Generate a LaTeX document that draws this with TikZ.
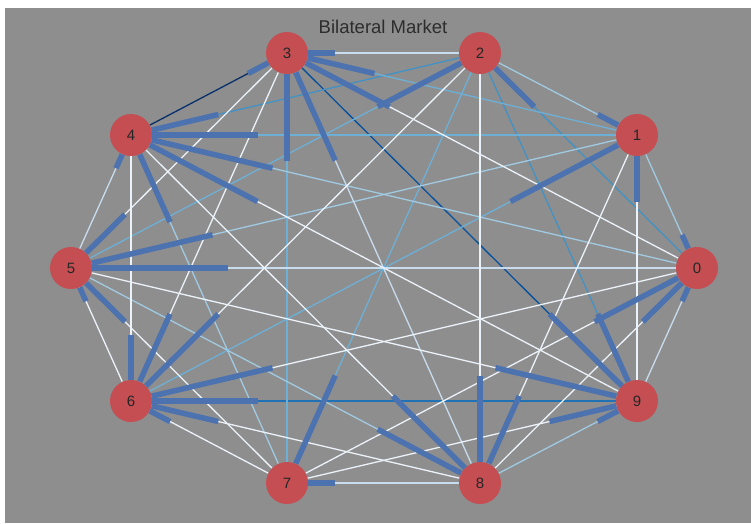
\documentclass[tikz,border=0pt]{standalone}
\usepackage{fontspec}
\setmainfont{Liberation Sans}
\usetikzlibrary{calc}
\definecolor{bgray}{RGB}{142,142,142}
\definecolor{nodered}{RGB}{196,78,82}
\definecolor{barblue}{RGB}{76,114,176}
\definecolor{titlegray}{RGB}{45,45,45}
\definecolor{cA}{RGB}{236,242,249}
\definecolor{cB}{RGB}{200,220,238}
\definecolor{cC}{RGB}{160,202,226}
\definecolor{cD}{RGB}{110,175,214}
\definecolor{cE}{RGB}{66,146,198}
\definecolor{cF}{RGB}{33,113,181}
\definecolor{cG}{RGB}{8,81,156}
\definecolor{cH}{RGB}{8,48,107}
\pgfdeclarelayer{back}
\pgfdeclarelayer{edges}
\pgfdeclarelayer{bars}
\pgfsetlayers{back,edges,bars,main}
\begin{document}
\begin{tikzpicture}[x=1pt,y=-1pt,
  vtx/.style={circle,fill=nodered,minimum size=42pt,inner sep=0pt,
    font=\fontsize{15}{15}\selectfont,text=black!85},
  edge/.style={line width=1.3pt},
  bar/.style={line width=5.5pt,draw=barblue},
]
\useasboundingbox (0,0) rectangle (751,523);
\begin{pgfonlayer}{back}
\fill[white] (0,0) rectangle (751,523);
\fill[bgray] (5,8) rectangle (751,523);
\end{pgfonlayer}
\node[anchor=base,font=\fontsize{18.5}{20}\selectfont,text=titlegray] (title) at (383,33) {Bilateral Market};
\node[vtx] (n0) at (697,268) {0};
\node[vtx] (n1) at (637,135) {1};
\node[vtx] (n2) at (480,53) {2};
\node[vtx] (n3) at (287,53) {3};
\node[vtx] (n4) at (131,135) {4};
\node[vtx] (n5) at (71,268) {5};
\node[vtx] (n6) at (131,401) {6};
\node[vtx] (n7) at (287,483) {7};
\node[vtx] (n8) at (480,483) {8};
\node[vtx] (n9) at (637,401) {9};
\begin{pgfonlayer}{edges}
\foreach \a/\b/\c in {
  3/4/cH, 3/9/cG, 6/9/cF,
  2/4/cE, 2/0/cE, 2/9/cE,
  3/7/cD, 2/7/cD, 4/1/cD, 1/3/cD, 2/5/cD, 1/6/cD,
  4/0/cC, 1/5/cC, 5/8/cC, 7/4/cC, 1/0/cC, 2/1/cC, 8/9/cC,
  3/2/cB, 7/8/cB, 0/5/cB, 0/9/cB, 4/5/cB, 3/8/cB,
  3/0/cA, 4/9/cA, 4/8/cA, 4/6/cA, 5/3/cA, 5/9/cA, 5/6/cA, 5/7/cA,
  6/0/cA, 6/2/cA, 6/3/cA, 6/7/cA, 6/8/cA, 7/0/cA, 7/9/cA, 8/0/cA,
  8/1/cA, 8/2/cA, 1/9/cA}
  \draw[edge,draw=\c] (n\a) -- (n\b);
\end{pgfonlayer}
\begin{pgfonlayer}{bars}
\foreach \a/\b in {
  3/4, 3/2, 3/1, 3/0, 3/8, 3/7,
  4/2, 4/1, 4/0, 4/9, 4/7, 4/5,
  2/5, 2/0,
  1/2, 1/6, 1/9,
  0/1, 0/7, 0/8, 0/9,
  9/2, 9/3, 9/5, 9/7, 9/8,
  5/0, 5/1, 5/3, 5/6, 5/7,
  6/0, 6/2, 6/3, 6/4, 6/7, 6/8, 6/9,
  7/2, 7/8,
  8/1, 8/2, 8/4, 8/5}
  \draw[bar] (n\a) -- ($(n\a)!0.25!(n\b)$);
\end{pgfonlayer}
\end{tikzpicture}
\end{document}
